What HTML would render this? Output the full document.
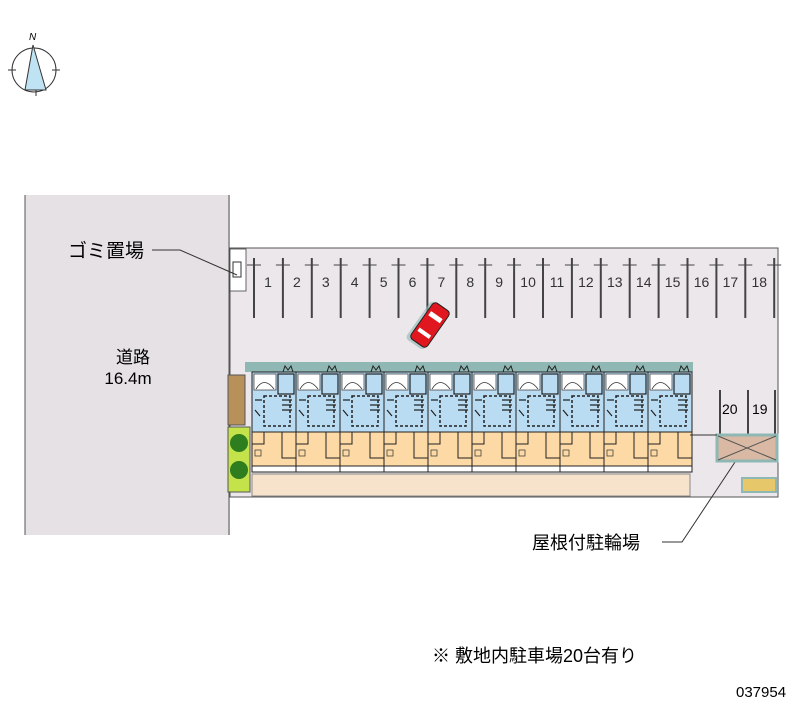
<!DOCTYPE html>
<html><head><meta charset="utf-8"><style>
html,body{margin:0;padding:0;background:#fff;}
svg{display:block;}
text{font-family:"Liberation Sans","Noto Sans CJK JP",sans-serif;}
</style></head><body>
<svg width="800" height="727" viewBox="0 0 800 727" xmlns="http://www.w3.org/2000/svg">
<defs>
<g id="stall"><line x1="0" y1="258" x2="0" y2="318" stroke="#444" stroke-width="2"/><line x1="-7" y1="265" x2="7" y2="265" stroke="#444"/></g>
<g id="unit">
<rect x="0" y="372" width="44" height="60" fill="#b9dcf3" stroke="#222"/>
<rect x="2" y="374" width="22" height="16" fill="#fff" stroke="#333" stroke-width="0.7"/>
<path d="M4 389 Q12 376 22 389" fill="none" stroke="#333" stroke-width="0.8"/>
<rect x="26" y="374" width="16" height="20" fill="#b9dcf3" stroke="#222" stroke-width="1.2"/>
<rect x="12" y="396" width="26" height="30" fill="none" stroke="#222" stroke-width="1.5" stroke-dasharray="3,2"/>
<path d="M3 400 L10 400 M3 410 L8 416 M30 400 L40 400 M30 405 L40 405 M30 410 L40 410" stroke="#222" stroke-width="1.2"/>
<path d="M31 372 L33 366 L36 370 L39 366 L41 372" fill="none" stroke="#222"/>
<rect x="0" y="432" width="44" height="38" fill="#fcd9a5" stroke="#222"/>
<path d="M0 444 L12 444 L12 432 M30 432 L30 458 L44 458" fill="none" stroke="#222"/>
<rect x="3" y="450" width="6" height="6" fill="none" stroke="#333" stroke-width="0.7"/>
<rect x="0" y="466" width="44" height="6" fill="#fff" stroke="#222"/>
</g>
</defs>
<!-- compass -->
<g stroke="#333" stroke-width="1" fill="none">
<circle cx="34" cy="70" r="22"/>
<line x1="8" y1="70" x2="16" y2="70"/><line x1="52" y1="70" x2="60" y2="70"/>
<line x1="36" y1="88" x2="36" y2="96"/>
</g>
<polygon points="33,45 25,90 46,90" fill="#bfe3f3" stroke="#333"/>
<text x="29" y="40" font-size="10" font-style="italic" font-family="Liberation Serif">N</text>
<!-- road -->
<rect x="25" y="195" width="205" height="340" fill="#e5e1e4"/>
<line x1="25" y1="195" x2="25" y2="535" stroke="#555"/>
<line x1="229" y1="195" x2="229" y2="535" stroke="#555"/>
<text x="133" y="363" font-size="17" text-anchor="middle">道路</text>
<text x="128" y="384" font-size="17" text-anchor="middle">16.4m</text>
<!-- lot -->
<polygon points="230,248 778,248 778,497 230,497" fill="#ece7ea" stroke="#555"/>
<rect x="230" y="249" width="16" height="42" fill="#fff" stroke="#444" stroke-width="0.8"/>
<rect x="233" y="262" width="8" height="15" fill="none" stroke="#333"/>
<!-- labels -->
<text x="68" y="257" font-size="19">ゴミ置場</text>
<polyline points="152,250 180,250 237,275" fill="none" stroke="#333"/>
<text x="532" y="549" font-size="18">屋根付駐輪場</text>
<polyline points="662,542 682,542 745,447" fill="none" stroke="#333"/>
<text x="432" y="662" font-size="18">※ 敷地内駐車場20台有り</text>
<text x="736" y="697" font-size="15">037954</text>
<!-- stalls -->
<use href="#stall" x="254"/><use href="#stall" x="282.9"/><use href="#stall" x="311.8"/><use href="#stall" x="340.7"/><use href="#stall" x="369.6"/><use href="#stall" x="398.5"/><use href="#stall" x="427.4"/><use href="#stall" x="456.3"/><use href="#stall" x="485.2"/><use href="#stall" x="514.1"/><use href="#stall" x="543"/><use href="#stall" x="571.9"/><use href="#stall" x="600.8"/><use href="#stall" x="629.7"/><use href="#stall" x="658.6"/><use href="#stall" x="687.5"/><use href="#stall" x="716.4"/><use href="#stall" x="745.3"/><use href="#stall" x="774.2"/>
<g font-size="14" fill="#333" text-anchor="middle">
<text x="268" y="287">1</text><text x="296.9" y="287">2</text><text x="325.8" y="287">3</text><text x="354.7" y="287">4</text><text x="383.6" y="287">5</text><text x="412.5" y="287">6</text><text x="441.4" y="287">7</text><text x="470.3" y="287">8</text><text x="499.2" y="287">9</text><text x="528.1" y="287">10</text><text x="557" y="287">11</text><text x="585.9" y="287">12</text><text x="614.8" y="287">13</text><text x="643.7" y="287">14</text><text x="672.6" y="287">15</text><text x="701.5" y="287">16</text><text x="730.4" y="287">17</text><text x="759.3" y="287">18</text>
</g>
<!-- car -->
<g transform="translate(430,325) rotate(35)">
<rect x="-11" y="-23" width="22" height="46" rx="4" fill="#8fb8b4" opacity="0.6" transform="translate(-2,2)"/>
<rect x="-10" y="-22" width="20" height="44" rx="4" fill="#e0171f" stroke="#222"/>
<rect x="-7" y="-12" width="14" height="5" fill="#fff"/>
<rect x="-7" y="8" width="14" height="4" fill="#fff"/>
</g>
<!-- building -->
<rect x="245" y="362" width="448" height="10" fill="#8fb8b4"/>
<use href="#unit" x="252"/><use href="#unit" x="296"/><use href="#unit" x="340"/><use href="#unit" x="384"/><use href="#unit" x="428"/><use href="#unit" x="472"/><use href="#unit" x="516"/><use href="#unit" x="560"/><use href="#unit" x="604"/><use href="#unit" x="648"/>
<rect x="252" y="474" width="438" height="22" fill="#f7e3cc" stroke="#888"/>
<!-- hedge/trees -->
<rect x="228" y="375" width="17" height="50" fill="#b8905a" stroke="#555"/>
<rect x="228" y="427" width="22" height="65" fill="#c4e24a" stroke="#555"/>
<circle cx="239" cy="443" r="9" fill="#2e7d1e"/>
<circle cx="239" cy="470" r="9" fill="#2e7d1e"/>
<!-- right parking 20 19 -->
<g stroke="#444" stroke-width="2"><line x1="720" y1="390" x2="720" y2="440"/><line x1="748" y1="390" x2="748" y2="440"/><line x1="775" y1="390" x2="775" y2="440"/></g>
<text x="722" y="414" font-size="14">20</text><text x="752" y="414" font-size="14">19</text>
<rect x="717" y="435" width="60" height="26" fill="#d9b9a4" stroke="#8fb8b4" stroke-width="3"/>
<line x1="718" y1="436" x2="776" y2="460" stroke="#555"/><line x1="718" y1="460" x2="776" y2="436" stroke="#555"/>
<line x1="690" y1="435" x2="717" y2="435" stroke="#333"/>
<rect x="742" y="478" width="34" height="14" fill="#e6c86a" stroke="#8fb8b4" stroke-width="2"/>
</svg>
</body></html>
